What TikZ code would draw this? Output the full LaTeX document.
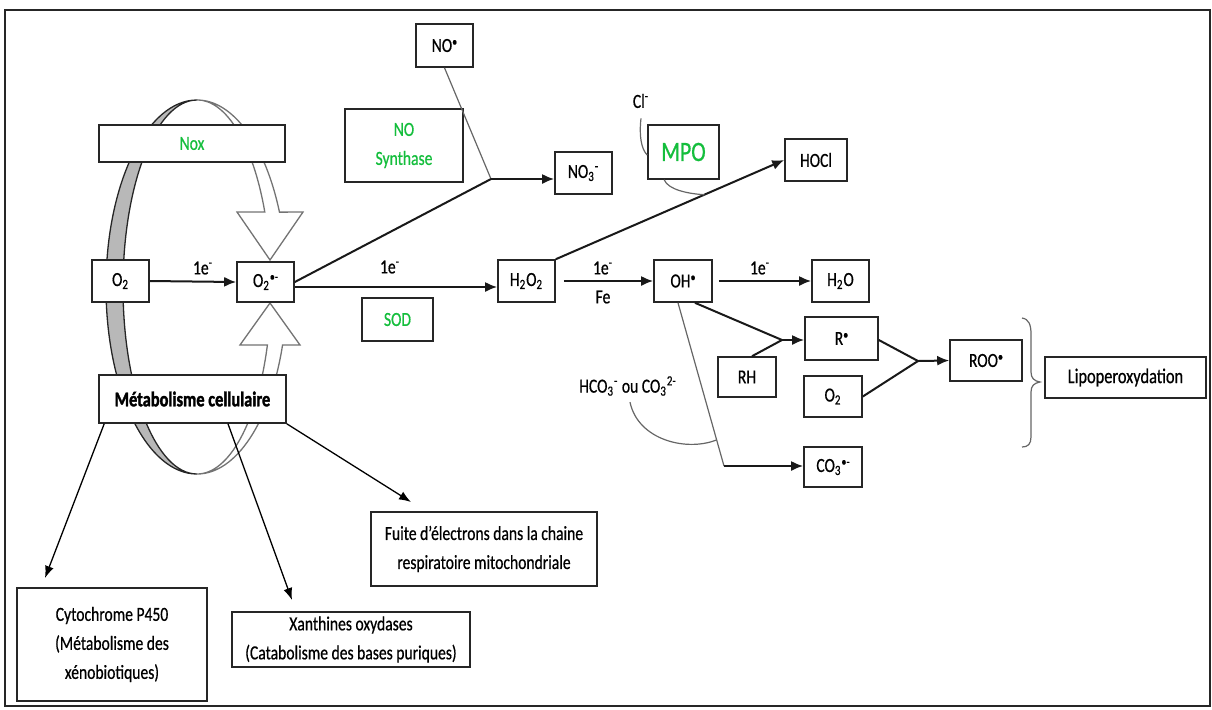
\documentclass[tikz,border=0pt]{standalone}
\usepackage{fontspec}
\setmainfont{Carlito}
\newfontfamily\cf[FakeStretch=0.78,FakeBold=0.6]{Carlito}
\newfontfamily\cfb[FakeStretch=0.78,FakeBold=1.6]{Carlito}
\usetikzlibrary{arrows.meta,calc}
\definecolor{grn}{RGB}{20,190,60}
\newcommand\rdot{\raisebox{0.62ex}{\fontsize{6.5}{6.5}\selectfont\textbullet}}
\newcommand\rdm{\raisebox{0.62ex}{\fontsize{6.5}{6.5}\selectfont\textbullet-}}
\begin{document}
\begin{tikzpicture}[x=0.5pt,y=-0.5pt,
  box/.style={draw=black!85, line width=0.8pt, fill=white, inner sep=0pt, align=center,
    font=\cf\fontsize{10}{14.5}\selectfont},
  lbl/.style={inner sep=1pt, font=\cf\fontsize{10}{11}\selectfont},
  ln/.style={line width=1pt, draw=black!90},
  thinl/.style={line width=0.6pt, draw=black!60},
  arr/.style={ln, -{Latex[length=6pt,width=5pt]}},
  arrb/.style={line width=0.65pt, draw=black, -{Latex[length=6pt,width=4.5pt]}},
  ringg/.style={fill=black!28, draw=black!85, line width=0.65pt},
  ringw/.style={fill=white, draw=black!55, line width=0.65pt}
]
\useasboundingbox (0,0) rectangle (1212,709);
\draw[line width=1pt, black!85] (5,10) rectangle (1210,706);

% ring
\filldraw[ringg] (197,100) arc[start angle=270, end angle=90, x radius=91, y radius=187]
  arc[start angle=90, end angle=270, x radius=74, y radius=187] -- cycle;
\filldraw[ringw] (197,100) arc[start angle=270, end angle=336.4, x radius=90, y radius=187]
  -- (303,212) -- (270,260) -- (237,212) -- (264.8,212)
  arc[start angle=336.4, end angle=270, x radius=74, y radius=187] -- cycle;
\filldraw[ringw] (197,474) arc[start angle=90, end angle=18.07, x radius=90, y radius=187]
  -- (300,345) -- (270,303) -- (240,345) -- (267.4,345)
  arc[start angle=18.07, end angle=90, x radius=74, y radius=187] -- cycle;

% boxes
\node[box, minimum width=28.5pt, minimum height=21pt] (o2) at (120.5,281) {O\textsubscript{2}};
\node[box, minimum width=28.5pt, minimum height=20pt] (o2m) at (265.5,282) {O\textsubscript{2}\rdm};
\node[box, minimum width=93pt, minimum height=18.5pt, text=grn] (nox) at (192,143.5) {Nox};
\node[box, minimum width=59pt, minimum height=36.5pt, text=grn] (nos) at (404,145.5) {NO\\Synthase};
\node[box, minimum width=28.5pt, minimum height=21.5pt] (no) at (444.5,45.5) {NO\rdot};
\node[box, minimum width=28.5pt, minimum height=21pt] (no3) at (583.5,173) {NO\textsubscript{3}\textsuperscript{-}};
\node[box, minimum width=35.5pt, minimum height=27pt, text=grn, font=\cf\fontsize{14}{16}\selectfont] (mpo) at (683.5,152) {MPO};
\node[box, minimum width=31pt, minimum height=21pt] (hocl) at (816,160) {HOCl};
\node[box, minimum width=28.5pt, minimum height=21pt] (h2o2) at (526.5,281) {H\textsubscript{2}O\textsubscript{2}};
\node[box, minimum width=35.5pt, minimum height=21.5pt, text=grn] (sod) at (397.5,319.5) {SOD};
\node[box, minimum width=29pt, minimum height=21pt] (oh) at (683,281) {OH\rdot};
\node[box, minimum width=28.5pt, minimum height=21pt] (h2o) at (840.5,281) {H\textsubscript{2}O};
\node[box, minimum width=36.5pt, minimum height=21.5pt] (r) at (841.5,338.5) {R\rdot};
\node[box, minimum width=29pt, minimum height=20pt] (rh) at (747,377) {RH};
\node[box, minimum width=29pt, minimum height=20.5pt] (o2b) at (833,396.5) {O\textsubscript{2}};
\node[box, minimum width=29pt, minimum height=20pt] (co3) at (833,467) {CO\textsubscript{3}\rdm};
\node[box, minimum width=36pt, minimum height=20.5pt] (roo) at (986,360.5) {ROO\rdot};
\node[box, minimum width=80.5pt, minimum height=20.5pt, font=\cf\fontsize{10.5}{12}\selectfont] (lipo) at (1125.5,377.5) {Lipoperoxydation};
\node[box, minimum width=93.5pt, minimum height=24pt, font=\cfb\bfseries\fontsize{10.5}{12}\selectfont] (met) at (192.5,399) {Métabolisme cellulaire};
\node[box, minimum width=113pt, minimum height=37pt] (fuite) at (484,549) {Fuite d’électrons dans la chaine\\respiratoire mitochondriale};
\node[box, minimum width=95pt, minimum height=56.5pt] (cyto) at (112,644.5) {Cytochrome P450\\(Métabolisme des\\xénobiotiques)};
\node[box, minimum width=119pt, minimum height=27.5pt] (xan) at (351,639.5) {Xanthines oxydases\\(Catabolisme des bases puriques)};

% labels
\node[lbl] (e1) at (203,268) {1e\textsuperscript{-}};
\node[lbl] (e2) at (390,267) {1e\textsuperscript{-}};
\node[lbl] (e3) at (603,268) {1e\textsuperscript{-}};
\node[lbl] (fe) at (603,297) {Fe};
\node[lbl] (e4) at (760,268) {1e\textsuperscript{-}};
\node[lbl] (cl) at (641,101) {Cl\textsuperscript{-}};
\node[lbl] (hco) at (628,386) {HCO\textsubscript{3}\textsuperscript{-} ou CO\textsubscript{3}\textsuperscript{2-}};

% junctions
\coordinate (jNO) at (491,179);
\coordinate (jR) at (782,340);
\coordinate (jC) at (724,466);
\coordinate (jROO) at (918,361);
\coordinate (mpoc) at ($(h2o2.north east)!0.65!(hocl.west)$);
\coordinate (jH) at ($([xshift=-2.5pt]oh.south)!0.84!(jC)$);
\coordinate (tcyto) at (45,578);
\coordinate (txan) at (292,600);
\coordinate (tfui) at (411,502);

% connectors
\draw[arr] (o2.east) -- (o2m.west);
\draw[thinl] (no.south) -- (jNO);
\draw[ln] (o2m.east) -- (jNO);
\draw[arr] (jNO) -- (jNO -| no3.west);
\draw[arr] ([yshift=-2.5pt]o2m.east) -- ([yshift=-2.5pt]o2m.east -| h2o2.west);
\draw[arr] (h2o2.north east) -- (hocl.west);
\draw[thinl] ([xshift=8.5pt]mpo.south west) .. controls +(4,10) and +(-16,-1) .. (mpoc);
\draw[thinl] ([yshift=-4pt]cl.south) .. controls +(-2,17) and +(-6,-6) .. ([yshift=-1.5pt]mpo.west);
\draw[arr] ([xshift=4pt]h2o2.east) -- (oh.west);
\draw[arr] ([xshift=3pt]oh.east) -- (h2o.west);
\draw[ln] ([xshift=6pt]oh.south) -- (jR);
\draw[ln] ([xshift=2.5pt]rh.north) -- (jR);
\draw[arr] (jR) -- (jR -| r.west);
\draw[thinl] ([xshift=-2.5pt]oh.south) -- (jC);
\draw[arr] (jC) -- (jC -| co3.west);
\draw[thinl] ([xshift=1pt,yshift=-2pt]hco.south) .. controls +(8,38) and +(-30,12) .. (jH);
\draw[ln] ([yshift=-0.75pt]r.east) -- (jROO);
\draw[ln] (o2b.east) -- (jROO);
\draw[arr] (jROO) -- (roo.west);
% brace
\draw[thinl] (1022,318) .. controls (1029,319) and (1031,325) .. (1031,334) -- (1031,372)
  .. controls (1031,378) and (1034,381) .. (1040,382)
  .. controls (1034,383) and (1031,386) .. (1031,392) -- (1031,437)
  .. controls (1031,444) and (1028,447) .. (1022,447);

% metabolism arrows
\draw[arrb] ([xshift=3pt]met.south west) -- (tcyto);
\draw[arrb] ([xshift=17.75pt]met.south) -- (txan);
\draw[arrb] (met.south east) -- (tfui);
\end{tikzpicture}
\end{document}
